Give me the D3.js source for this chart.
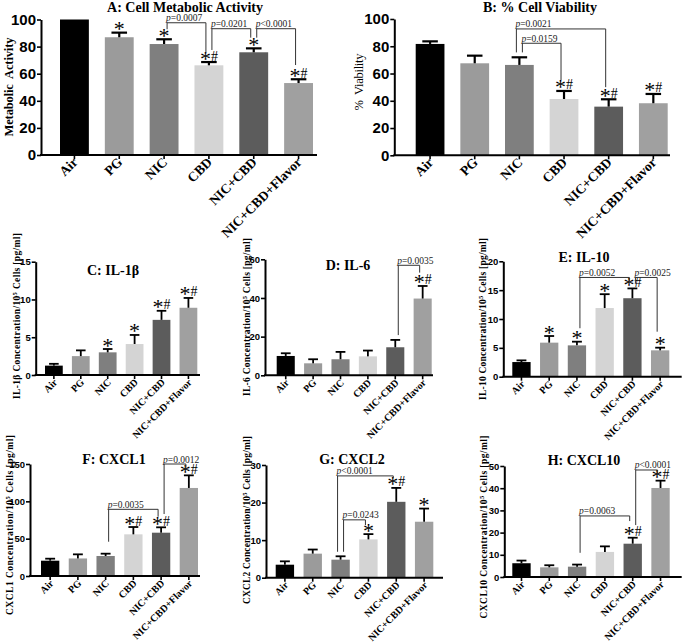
<!DOCTYPE html>
<html>
<head>
<meta charset="utf-8">
<script src="https://cdn.jsdelivr.net/npm/d3@7"></script>
<style>
  body { margin: 0; background: #fff; }
  svg { display: block; }
  .serif { font-family: "Liberation Serif", "Times New Roman", serif; }
  .sans { font-family: "Liberation Sans", Arial, sans-serif; }
</style>
</head>
<body>
<svg width="685" height="642"></svg>
<script>
// groups on the x axis (same for every panel)
const groups = ["Air", "PG", "NIC", "CBD", "NIC+CBD", "NIC+CBD+Flavor"];

// A: metabolic activity
const metabolicMean = [100, 86.9, 81.9, 66.2, 75.8, 53.1];
const metabolicSem = [0, 3.4, 3.5, 2.4, 2.9, 2.8];
const metabolicSig = ["", "*", "*", "*#", "*", "*#"];
const metabolicTicks = [0, 20, 40, 60, 80, 100];
// brackets: from, to, label, top value, left leg end, right leg end
const metabolicBrackets = [
    ["NIC", "CBD", "=0.0007", 97.6, 92.8, 75.8],
    ["CBD", "NIC+CBD", "=0.0201", 93.2, 77.5, 86.6],
    ["NIC+CBD", "NIC+CBD+Flavor", "<0.0001", 93.2, 86.6, 66.4]
];

// B: % viability
const viabilityMean = [81.7, 67.5, 66.3, 41.3, 35.7, 38.2];
const viabilitySem = [1.9, 5.6, 5.6, 5.9, 5.4, 6.8];
const viabilitySig = ["", "", "", "*#", "*#", "*#"];
const viabilityTicks = [0, 20, 40, 60, 80, 100];
const viabilityBrackets = [
    ["NIC", "NIC+CBD", "=0.0021", 92.7, 75.5, 50.0],
    ["NIC", "CBD", "=0.0159", 82.2, 75.5, 55.2]
];

// C: IL-1b
const il1bMean = [1.24, 2.5, 3.0, 4.1, 7.3, 8.9];
const il1bSem = [0.24, 0.76, 0.44, 1.2, 1.2, 1.3];
const il1bSig = ["", "", "*", "*", "*#", "*#"];
const il1bTicks = [0, 5, 10, 15];
const il1bBrackets = [];

// D: IL-6
const il6Mean = [10, 6.2, 8.3, 9.8, 14.5, 39.7];
const il6Sem = [1.4, 2.1, 3.8, 3.0, 3.8, 6.5];
const il6Sig = ["", "", "", "", "", "*#"];
const il6Ticks = [0, 20, 40, 60];
const il6Brackets = [
    ["NIC+CBD", "NIC+CBD+Flavor", "=0.0035", 56.9, 20.8, 53.1]
];

// E: IL-10
const il10Mean = [2.54, 5.9, 5.43, 11.9, 13.6, 4.57];
const il10Sem = [0.29, 1.15, 0.64, 2.4, 1.7, 0.46];
const il10Sig = ["", "*", "*", "*", "*#", "*"];
const il10Ticks = [0, 5, 10, 15, 20];
const il10Brackets = [
    ["NIC", "NIC+CBD", "=0.0052", 17.2, 8.4, 16.2],
    ["NIC+CBD", "NIC+CBD+Flavor", "=0.0025", 17.2, 16.2, 7.8]
];

// F: CXCL1
const cxcl1Mean = [20.5, 23.5, 26.8, 55.8, 58, 117.9];
const cxcl1Sem = [2.7, 5.5, 3.1, 9.8, 7.2, 16.9];
const cxcl1Sig = ["", "", "", "*#", "*#", "*#"];
const cxcl1Ticks = [0, 50, 100, 150];
const cxcl1Brackets = [
    ["NIC", "NIC+CBD", "=0.0035", 89.3, 45.9, 79.4],
    ["NIC+CBD", "NIC+CBD+Flavor", "=0.0012", 150, 83, 144.2]
];

// G: CXCL2
const cxcl2Mean = [3.46, 6.4, 4.8, 10.2, 20.2, 14.9];
const cxcl2Sem = [0.9, 1.1, 0.9, 1.4, 3.7, 3.5];
const cxcl2Sig = ["", "", "", "*", "*#", "*"];
const cxcl2Ticks = [0, 10, 20, 30];
const cxcl2Brackets = [
    ["NIC", "NIC+CBD", "<0.0001", 27.1, 6.9, 26.5],
    ["NIC", "CBD", "=0.0243", 15.4, 6.9, 14.0]
];

// H: CXCL10
const cxcl10Mean = [6.2, 4.35, 4.65, 11.3, 15, 40.1];
const cxcl10Sem = [1.2, 0.95, 0.95, 2.5, 2.7, 3.3];
const cxcl10Sig = ["", "", "", "", "*#", "*#"];
const cxcl10Ticks = [0, 10, 20, 30, 40, 50];
const cxcl10Brackets = [
    ["NIC", "NIC+CBD", "=0.0063", 27.5, 10.9, 25.2],
    ["NIC+CBD", "NIC+CBD+Flavor", "<0.0001", 48.2, 23.4, 46.7]
];

const barColor = d3.scaleOrdinal()
    .domain(groups)
    .range(["#000000", "#9b9b9b", "#7f7f7f", "#d4d4d4", "#5c5c5c", "#a0a0a0"]);

const svg = d3.select("svg");
svg.append("rect").attr("width", 685).attr("height", 642).attr("fill", "#fff");

// --------------- //
// LAYOUT //
// --------------- //
const panels = [
    { title: "A: Cell Metabolic Activity", mean: metabolicMean, sem: metabolicSem, sig: metabolicSig,
      ticks: metabolicTicks, brackets: metabolicBrackets, big: true,
      axisX: 41, axisEnd: 317, barL: 60, barR: 313, y0: 155, yTop: 19.5,
      titleX: 185, titleY: 11.5, labX: 13, labY: 87, labLen: 99, label: ["Metabolic  Activity"] },
    { title: "B: % Cell Viability", mean: viabilityMean, sem: viabilitySem, sig: viabilitySig,
      ticks: viabilityTicks, brackets: viabilityBrackets, big: true, labelWeight: "normal",
      axisX: 394.3, axisEnd: 670, barL: 415.7, barR: 667.7, y0: 155.3, yTop: 19,
      titleX: 540, titleY: 11.5, labX: 363, labY: 82, labLen: 57, label: ["%  Viability"] },
    { title: "C: IL-1β", mean: il1bMean, sem: il1bSem, sig: il1bSig,
      ticks: il1bTicks, brackets: il1bBrackets,
      axisX: 35.7, axisEnd: 200, barL: 45, barR: 197.3, y0: 375, yTop: 261.7,
      titleX: 113, titleY: 275, labX: 19.5, labY: 316, labLen: 166, label: ["IL-1β Concentration/10", "5", " Cells [pg/ml]"] },
    { title: "D: IL-6", mean: il6Mean, sem: il6Sem, sig: il6Sig,
      ticks: il6Ticks, brackets: il6Brackets,
      axisX: 265, axisEnd: 433, barL: 276.7, barR: 431.7, y0: 375.3, yTop: 259.3,
      titleX: 348, titleY: 270, labX: 250, labY: 317, labLen: 158, label: ["IL-6 Concentration/10", "5", " Cells [pg/ml]"] },
    { title: "E: IL-10", mean: il10Mean, sem: il10Sem, sig: il10Sig,
      ticks: il10Ticks, brackets: il10Brackets,
      axisX: 503.3, axisEnd: 681.7, barL: 512.3, barR: 669.3, y0: 376.7, yTop: 261.3,
      titleX: 584, titleY: 262, labX: 486, labY: 319, labLen: 162, label: ["IL-10 Concentration/10", "5", " Cells [pg/ml]"] },
    { title: "F: CXCL1", mean: cxcl1Mean, sem: cxcl1Sem, sig: cxcl1Sig,
      ticks: cxcl1Ticks, brackets: cxcl1Brackets,
      axisX: 30, axisEnd: 200, barL: 41, barR: 198, y0: 576, yTop: 464,
      titleX: 114, titleY: 464, labX: 13, labY: 525, labLen: 180, label: ["CXCL1 Concentration/10", "5", " Cells [pg/ml]"] },
    { title: "G: CXCL2", mean: cxcl2Mean, sem: cxcl2Sem, sig: cxcl2Sig,
      ticks: cxcl2Ticks, brackets: cxcl2Brackets,
      axisX: 266, axisEnd: 443, barL: 275.7, barR: 433.3, y0: 577.7, yTop: 465,
      titleX: 352, titleY: 463.5, labX: 250, labY: 520, labLen: 168, label: ["CXCL2 Concentration/10", "5", " Cells [pg/ml]"] },
    { title: "H: CXCL10", mean: cxcl10Mean, sem: cxcl10Sem, sig: cxcl10Sig,
      ticks: cxcl10Ticks, brackets: cxcl10Brackets,
      axisX: 504.3, axisEnd: 681.7, barL: 512.3, barR: 669.7, y0: 577, yTop: 466,
      titleX: 584, titleY: 465, labX: 486.5, labY: 527, labLen: 183, label: ["CXCL10 Concentration/10", "5", " Cells [pg/ml]"] }
];

panels.forEach(drawPanel);

function drawPanel(p) {
    let g = svg.append("g");
    let tickFont = p.big ? 15 : 9.5;
    let catFont = p.big ? 13.5 : 10;

    let x = d3.scaleBand()
        .domain(groups)
        .range([p.barL, p.barR])
        .paddingInner(p.big ? 0.356 : 0.34)
        .paddingOuter(0);

    let y = d3.scaleLinear()
        .domain([0, d3.max(p.ticks)])
        .range([p.y0, p.yTop]);

    let rows = groups.map((k, i) => ({ key: k, mean: p.mean[i], sem: p.sem[i], sig: p.sig[i] }));

    // bars
    g.selectAll(".bar")
        .data(rows)
        .enter()
        .append("rect")
        .attr("x", d => x(d.key))
        .attr("y", d => y(d.mean))
        .attr("width", x.bandwidth())
        .attr("height", d => p.y0 - y(d.mean))
        .attr("fill", d => barColor(d.key));

    // error bars (upper only)
    let cap = x.bandwidth() * 0.27;
    let sw = p.big ? 2.2 : 1.8;
    let eb = g.selectAll(".err")
        .data(rows.filter(d => d.sem > 0))
        .enter()
        .append("g");
    eb.append("line")
        .attr("x1", d => x(d.key) + x.bandwidth() / 2)
        .attr("x2", d => x(d.key) + x.bandwidth() / 2)
        .attr("y1", d => y(d.mean))
        .attr("y2", d => y(d.mean + d.sem))
        .attr("stroke", "#000")
        .attr("stroke-width", sw);
    eb.append("line")
        .attr("x1", d => x(d.key) + x.bandwidth() / 2 - cap)
        .attr("x2", d => x(d.key) + x.bandwidth() / 2 + cap)
        .attr("y1", d => y(d.mean + d.sem))
        .attr("y2", d => y(d.mean + d.sem))
        .attr("stroke", "#000")
        .attr("stroke-width", sw);

    // y axis
    let yAxis = g.append("g")
        .attr("transform", `translate(${p.axisX},0)`)
        .call(d3.axisLeft(y).tickValues(p.ticks).tickSize(4).tickSizeOuter(0).tickPadding(1));
    yAxis.select(".domain").attr("stroke-width", 2);
    yAxis.selectAll(".tick line").attr("stroke-width", 1.6);
    yAxis.selectAll("text")
        .attr("class", "sans")
        .style("font-size", tickFont + "px")
        .style("font-weight", "bold")
        .attr("fill", "#000");

    // x axis
    g.append("line")
        .attr("x1", p.axisX - 1).attr("x2", p.axisEnd)
        .attr("y1", p.y0).attr("y2", p.y0)
        .attr("stroke", "#000").attr("stroke-width", 2);
    let xAxis = g.append("g")
        .attr("transform", `translate(0,${p.y0})`)
        .call(d3.axisBottom(x).tickSize(4).tickFormat(""));
    xAxis.select(".domain").remove();
    xAxis.selectAll(".tick line").attr("stroke-width", 1.6);

    g.selectAll(".cat")
        .data(groups)
        .enter()
        .append("text")
        .attr("class", "serif")
        .attr("text-anchor", "end")
        .attr("transform", d => `translate(${x(d) + x.bandwidth() / 2 + 4},${p.y0 + 8}) rotate(-45)`)
        .style("font-size", catFont + "px")
        .style("font-weight", "bold")
        .text(d => d);

    // title
    g.append("text")
        .attr("class", "serif")
        .attr("x", p.titleX).attr("y", p.titleY)
        .attr("text-anchor", "middle")
        .style("font-size", "14px")
        .style("font-weight", "bold")
        .text(p.title);

    // y label
    let lab = g.append("text")
        .attr("class", "serif")
        .attr("transform", `translate(${p.labX},${p.labY}) rotate(-90)`)
        .attr("text-anchor", "middle")
        .attr("textLength", p.labLen)
        .attr("lengthAdjust", "spacing")
        .style("font-size", p.big ? "12.5px" : "9.5px")
        .style("font-weight", p.labelWeight || "bold")
        .style("white-space", "pre");
    lab.append("tspan").text(p.label[0]);
    if (p.label.length > 1) {
        lab.append("tspan").attr("dy", -3).style("font-size", "6.5px").text(p.label[1]);
        lab.append("tspan").attr("dy", 3).text(p.label[2]);
    }

    // significance marks
    let cx = d => x(d.key) + x.bandwidth() / 2;
    let marks = rows.filter(d => d.sig !== "");
    marks.forEach(d => {
        let top = y(d.mean + d.sem) - 1.5;
        let two = d.sig === "*#";
        g.append("text")
            .attr("class", "serif")
            .attr("x", two ? cx(d) - 3.5 : cx(d))
            .attr("y", top + 5)
            .attr("text-anchor", "middle")
            .style("font-size", "22px")
            .text("*");
        if (two) {
            g.append("text")
                .attr("class", "serif")
                .attr("x", cx(d) + 5.5)
                .attr("y", top)
                .attr("text-anchor", "middle")
                .style("font-size", "14px")
                .text("#");
        }
    });

    // p-value brackets
    p.brackets.forEach(b => {
        let outer = p.brackets.some(o => o !== b && o[0] === b[0] && o[3] < b[3]);
        let lx = x(b[0]) + x.bandwidth() / 2 + (outer ? -3 : 3);
        let rx = x(b[1]) + x.bandwidth() / 2 - 3;
        let ty = y(b[3]);
        g.append("path")
            .attr("d", `M${lx},${y(b[4])}V${ty}H${rx}V${y(b[5])}`)
            .attr("fill", "none")
            .attr("stroke", "#333")
            .attr("stroke-width", 1);
        let t = g.append("text")
            .attr("class", "serif")
            .attr("x", lx - 1)
            .attr("y", ty - 1.5)
            .style("font-size", "9.5px")
            .attr("fill", "#222");
        t.append("tspan").style("font-style", "italic").text("p");
        t.append("tspan").text(b[2]);
    });
}
</script>
</body>
</html>
